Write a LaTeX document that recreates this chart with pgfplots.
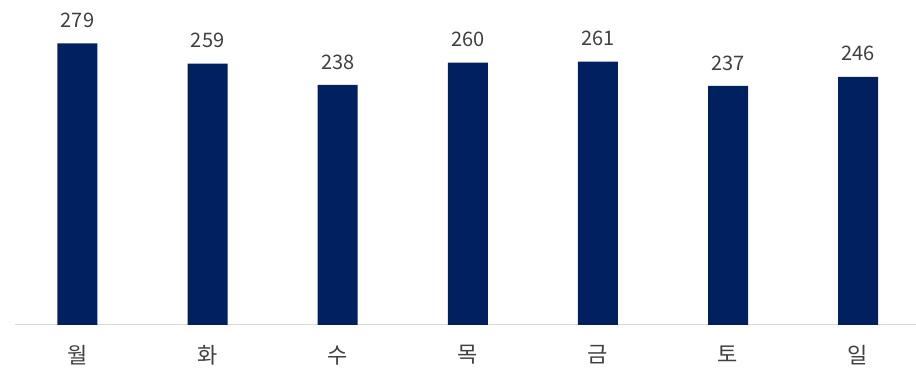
\documentclass[border=0pt]{standalone}
\usepackage{pgfplots}
\pgfplotsset{compat=1.18}
\usepackage{fontspec}
\setmainfont{Noto Sans CJK KR}
\definecolor{barc}{HTML}{002060}
\definecolor{txt}{HTML}{404040}
\definecolor{basel}{HTML}{D9D9D9}
\begin{document}
\begin{tikzpicture}
\begin{axis}[name=a,
  scale only axis, width=901pt, height=325pt,
  xmin=-0.48, xmax=6.445, ymin=0, ymax=322.1,
  axis y line=none,
  axis x line=bottom,
  x axis line style={draw=basel, line width=1pt, -},
  major tick length=0pt,
  xtick={0,...,6},
  xticklabels={월,화,수,목,금,토,일},
  xticklabel style={font=\fontsize{22}{22}\selectfont, text=txt, yshift=-17pt},
  ybar, bar width=40pt,
  /pgf/number format/assume math mode=true,
  nodes near coords,
  nodes near coords style={font=\fontsize{20}{20}\selectfont, text=txt, yshift=12pt},
  clip=false,
]
\addplot[fill=barc, draw=none] coordinates {(0,279) (1,259) (2,238) (3,260) (4,261) (5,237) (6,246)};
\end{axis}
\pgfresetboundingbox
\path[use as bounding box] ([xshift=-15pt,yshift=-43pt]a.south west) rectangle (a.north east);
\end{tikzpicture}
\end{document}
